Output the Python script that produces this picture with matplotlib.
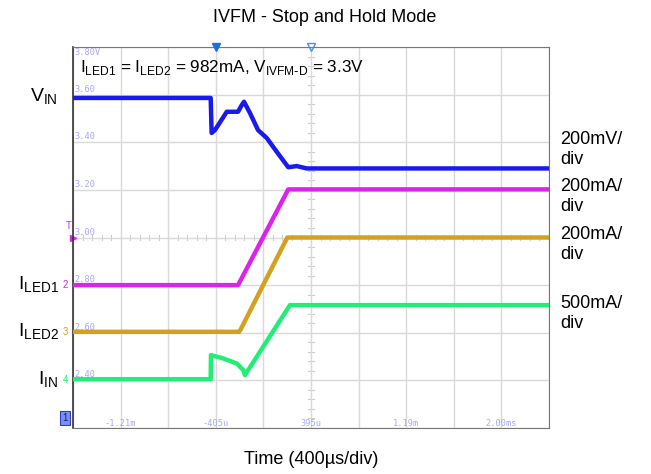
#!/usr/bin/env python
# Scope capture: IVFM stop and hold mode

import numpy as np
import matplotlib
matplotlib.use('Agg')
import matplotlib.pyplot as plt
import matplotlib.ticker as ticker

plt.rcParams['font.family'] = ['Liberation Sans', 'DejaVu Sans']

# Time in us, screen position expressed in ch1 volts (0.2 V/div)
vin_t = [-1605, -448, -440, -412, -313, -218, -187, -168, -118, -50, 23, 107, 204, 275, 359, 2395]
vin_v = [3.586, 3.586, 3.439, 3.451, 3.528, 3.528, 3.556, 3.570, 3.523, 3.451, 3.418, 3.360, 3.295, 3.300, 3.290, 3.290]

iled1_t = [-1605, -218, 204, 2395]
iled1_v = [2.800, 2.800, 3.202, 3.202]

iled2_t = [-1605, -210, -200, 196, 2395]
iled2_v = [2.604, 2.604, 2.610, 3.000, 3.000]

iin_t = [-1605, -448, -446, -342, -229, -174, -160, 218, 2395]
iin_v = [2.405, 2.405, 2.506, 2.492, 2.471, 2.443, 2.422, 2.716, 2.716]

y_tick_vals = [3.60, 3.40, 3.20, 3.00, 2.80, 2.60, 2.40]
y_tick_text = ['3.60', '3.40', '3.20', '3.00', '2.80', '2.60', '2.40']
x_tick_vals = [-1205, -405, 395, 1195, 1995]
x_tick_text = ['-1.21m', '-405u', '395u', '1.19m', '2.00ms']

ch_labels = ['200mV/\ndiv', '200mA/\ndiv', '200mA/\ndiv', '500mA/\ndiv']

W, H = 651, 474


def fx(x):
    return x / W


def fy(y):
    return 1 - y / H


fig = plt.figure(figsize=(W / 100, H / 100), dpi=100)
ax = fig.add_axes([fx(73), fy(428), (549 - 73) / W, (428 - 47) / H])

x0, x1 = -1605, 2395
y0, y1 = 2.20, 3.80
ax.set_xlim(x0, x1)
ax.set_ylim(y0, y1)

ax.xaxis.set_major_locator(ticker.MultipleLocator(400, offset=395))
ax.yaxis.set_major_locator(ticker.MultipleLocator(0.2))
ax.grid(True, color='#d9d9d9', lw=1.0)
ax.tick_params(length=0, labelbottom=False, labelleft=False)
ax.spines['left'].set_color('#333333')
ax.spines['left'].set_linewidth(1.2)
for s in ['top', 'right', 'bottom']:
    ax.spines[s].set_color('#777777')

# small ticks on the centre cross
xc, yc = 395, 3.00
for t in np.arange(x0, x1 + 1, 80):
    ax.plot([t, t], [yc - 0.012, yc + 0.012], color='#cccccc', lw=0.8, zorder=1)
for v in np.arange(y0, y1 + 0.001, 0.04):
    ax.plot([xc - 25, xc + 25], [v, v], color='#cccccc', lw=0.8, zorder=1)

ax.plot(vin_t, vin_v, color='#1a1aee', lw=3.2, solid_joinstyle='round', zorder=5)
ax.plot(iled1_t, iled1_v, color='#dd22ee', lw=3.2, solid_joinstyle='round', zorder=4)
ax.plot(iled2_t, iled2_v, color='#d4a020', lw=3.2, solid_joinstyle='round', zorder=4)
ax.plot(iin_t, iin_v, color='#22ee77', lw=3.2, solid_joinstyle='round', zorder=4)

# scope readouts inside the grid
mono = dict(color='#a8a8f0', fontsize=6.2, family='DejaVu Sans Mono')
for v, s in zip(y_tick_vals, y_tick_text):
    ax.text(x0 + 10, v + 0.004, s, va='bottom', ha='left', **mono)
ax.text(x0 + 10, 3.80 - 0.004, '3.80V', va='top', ha='left', **mono)
for t, s in zip(x_tick_vals, x_tick_text):
    ax.text(t, 2.22, s, va='center', ha='center', **mono)

# trigger markers on top edge
ax.plot([-405], [3.80], marker='v', color='#1a6ee8', ms=6, clip_on=False, zorder=6)
ax.plot([395], [3.80], marker='v', mfc='none', mec='#4a90e8', ms=6, clip_on=False, zorder=6)

ax.text(x0 + 60, 3.715,
        r'I$_{\mathregular{LED1}}$ = I$_{\mathregular{LED2}}$ = 982mA, V$_{\mathregular{IVFM\text{-}D}}$ = 3.3V',
        fontsize=12.3, va='center', ha='left', zorder=7)

# channel markers on left edge
fig.text(fx(63), fy(285), '2', color='#dd22ee', fontsize=7, va='center', ha='left')
fig.text(fx(63), fy(332), '3', color='#d4a020', fontsize=7, va='center', ha='left')
fig.text(fx(63), fy(380), '4', color='#22ee77', fontsize=7, va='center', ha='left')
fig.text(fx(66), fy(226), 'T', color='#dd22ee', fontsize=7, va='center', ha='left')
ax.plot([x0], [3.00], marker='>', color='#dd22ee', ms=4, clip_on=False)
fig.text(fx(62), fy(418), '1', color='#1a1a88', fontsize=7, va='center', ha='left',
         bbox=dict(boxstyle='square,pad=0.25', fc='#7a8ff0', ec='#3040c0', lw=0.8))

# signal names
fig.text(fx(30), fy(97), r'V$_{\mathregular{IN}}$', fontsize=14, va='center', ha='left')
fig.text(fx(18), fy(285), r'I$_{\mathregular{LED1}}$', fontsize=14, va='center', ha='left')
fig.text(fx(18), fy(332), r'I$_{\mathregular{LED2}}$', fontsize=14, va='center', ha='left')
fig.text(fx(38), fy(380), r'I$_{\mathregular{IN}}$', fontsize=14, va='center', ha='left')

for y, s in zip([131, 178, 226, 295], ch_labels):
    fig.text(fx(560), fy(y), s, fontsize=13, va='top', ha='left', linespacing=1.25)

fig.text(fx(325), fy(18), 'IVFM - Stop and Hold Mode', fontsize=13, va='center', ha='center')
fig.text(fx(311), fy(460), 'Time (400\u00b5s/div)', fontsize=13, va='center', ha='center')

fig.savefig('out.png', dpi=100)
